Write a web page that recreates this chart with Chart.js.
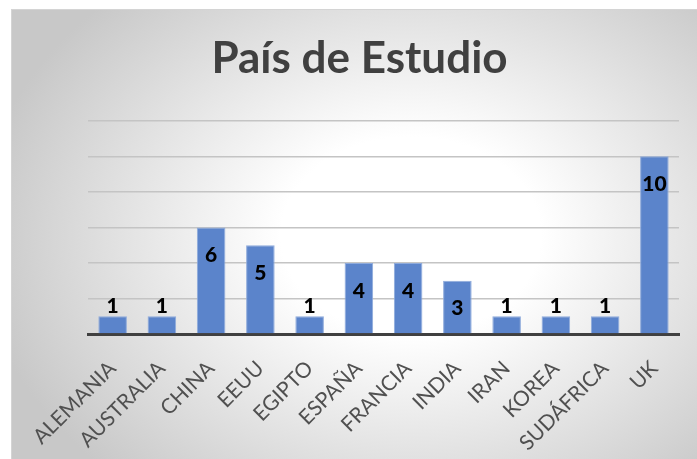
<!DOCTYPE html>
<html>
<head>
<meta charset="utf-8">
<script src="https://cdn.jsdelivr.net/npm/chart.js@4.4.1/dist/chart.umd.min.js"></script>
<style>
  html, body { margin: 0; padding: 0; background: #ffffff; width: 697px; height: 459px; overflow: hidden; }
  #card {
    position: absolute; left: 11px; top: 9px; width: 700px; height: 470px;
    border: 1px solid #d4d4d4;
    background: radial-gradient(ellipse 62% 70% at 57% 48%, #ffffff 30%, #c8c8c8 100%);
  }
  #wrap { position: absolute; left: 0; top: 0; width: 697px; height: 459px; }
</style>
</head>
<body>
<div id="card"></div>
<div id="wrap"><canvas id="c" width="697" height="459"></canvas></div>
<script>
const categories = ["ALEMANIA", "AUSTRALIA", "CHINA", "EEUU", "EGIPTO", "ESPAÑA", "FRANCIA", "INDIA", "IRAN", "KOREA", "SUDÁFRICA", "UK"];
const counts = [1, 1, 6, 5, 1, 4, 4, 3, 1, 1, 1, 10];
const yTicks = [0, 2, 4, 6, 8, 10, 12];
const chartTitle = "País de Estudio";

const barLabels = {
  id: 'barLabels',
  afterDatasetsDraw(chart) {
    const ctx = chart.ctx;
    const meta = chart.getDatasetMeta(0);
    ctx.save();
    ctx.font = '900 21px Lato';
    ctx.fillStyle = '#000000';
    ctx.textAlign = 'center';
    ctx.textBaseline = 'middle';
    meta.data.forEach((bar, i) => {
      const h = bar.base - bar.y;
      const y = h > 40 ? bar.y + 28 : bar.y - 10;
      ctx.fillText(String(counts[i]), bar.x, y);
    });
    ctx.restore();
  }
};

new Chart(document.getElementById('c'), {
  type: 'bar',
  data: {
    labels: categories,
    datasets: [{
      data: counts,
      backgroundColor: '#5b84cb',
      borderColor: '#8eaadb',
      borderWidth: 1,
      barPercentage: 0.58,
      categoryPercentage: 1.0
    }]
  },
  options: {
    responsive: false,
    animation: false,
    devicePixelRatio: 1,
    layout: { padding: { left: 40, right: 18, top: 0, bottom: 0 } },
    plugins: {
      legend: { display: false },
      tooltip: { enabled: false },
      title: {
        display: true,
        text: chartTitle,
        color: '#404040',
        font: { family: 'Lato', size: 44, weight: 'bold', lineHeight: 1.2 },
        padding: { top: 32, bottom: 36 }
      }
    },
    scales: {
      x: {
        grid: { display: false, drawTicks: false },
        border: { display: true, color: '#404040', width: 3 },
        ticks: {
          color: '#505050',
          font: { family: 'Lato', size: 21 },
          minRotation: 45,
          maxRotation: 45,
          padding: 22,
          autoSkip: false
        },
        afterFit(scale) { scale.height = 125; }
      },
      y: {
        min: yTicks[0],
        max: yTicks[yTicks.length - 1],
        afterBuildTicks(scale) { scale.ticks = yTicks.map(v => ({ value: v })); },
        ticks: { display: false },
        grid: { color: '#c4c4c4', lineWidth: 1.5, drawTicks: false },
        border: { display: false },
        afterFit(scale) { scale.width = 48; }
      }
    }
  },
  plugins: [barLabels]
});
</script>
</body>
</html>
